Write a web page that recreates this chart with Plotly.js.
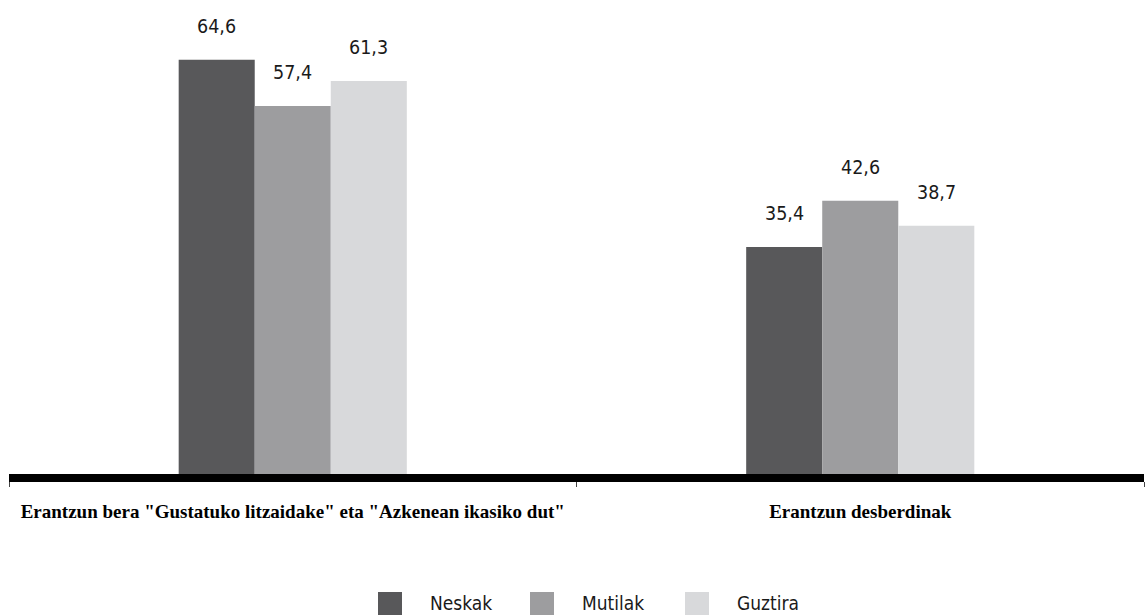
<!DOCTYPE html>
<html>
<head>
<meta charset="utf-8">
<script src="https://cdn.plot.ly/plotly-3.0.1.min.js"></script>
<style>html,body{margin:0;padding:0;background:#fff;}#chart{width:1146px;height:615px;}</style>
</head>
<body>
<div id="chart"></div>
<script>
const categories = ['Erantzun bera "Gustatuko litzaidake" eta "Azkenean ikasiko dut"', 'Erantzun desberdinak'];
const seriesNames = ['Neskak', 'Mutilak', 'Guztira'];
const neskak = [64.6, 35.4];
const mutilak = [57.4, 42.6];
const guztira = [61.3, 38.7];
const seriesColors = ['#58585a', '#9d9d9f', '#d8d9db'];

const seriesValues = [neskak, mutilak, guztira];
const W = 1146, H = 615;
const margin = {l: 9, r: 2, t: 20, b: 141};
const plotW = W - margin.l - margin.r, plotH = H - margin.t - margin.b;
const bargap = 0.598;
const barW = (1 - bargap) / seriesNames.length;
const labelFont = 'DejaVu Sans Condensed, Liberation Sans Narrow, Arial Narrow, sans-serif';
const fmt = v => v.toFixed(1).replace('.', ',');

const traces = seriesNames.map((name, i) => ({
  type: 'bar',
  name: name,
  x: categories,
  y: seriesValues[i],
  marker: {color: seriesColors[i], line: {width: 0}},
  hoverinfo: 'skip'
}));

const annotations = [];
seriesValues.forEach((vals, i) => {
  vals.forEach((v, j) => {
    annotations.push({
      x: j + (i - (seriesNames.length - 1) / 2) * barW,
      y: v, xref: 'x', yref: 'y',
      text: fmt(v), showarrow: false,
      yanchor: 'bottom', yshift: 20,
      font: {family: labelFont, size: 19.5, color: '#1a1a1a'}
    });
  });
});

// legend (drawn in pixel positions below the plot)
const px2x = p => (p - margin.l) / plotW;
const px2y = p => (H - margin.b - p) / plotH;
const legendX = [378, 530, 685];
const shapes = [];
seriesNames.forEach((name, i) => {
  shapes.push({
    type: 'rect', xref: 'paper', yref: 'paper',
    x0: px2x(legendX[i]), x1: px2x(legendX[i] + 24),
    y0: px2y(592), y1: px2y(616),
    fillcolor: seriesColors[i], line: {width: 0}
  });
  annotations.push({
    xref: 'paper', yref: 'paper',
    x: px2x(legendX[i] + 50), y: px2y(603),
    xanchor: 'left', yanchor: 'middle',
    text: name, showarrow: false,
    font: {family: labelFont, size: 19, color: '#1a1a1a'}
  });
});

const layout = {
  width: W, height: H,
  margin: margin,
  paper_bgcolor: '#ffffff', plot_bgcolor: '#ffffff',
  barmode: 'group', bargap: bargap, bargroupgap: 0,
  showlegend: false,
  xaxis: {
    type: 'category',
    showline: true, linecolor: '#000000', linewidth: 8,
    ticks: 'outside', tickson: 'boundaries', ticklen: 5, tickwidth: 1, tickcolor: '#444',
    ticklabelstandoff: 13,
    showgrid: false, zeroline: false,
    tickfont: {family: 'Liberation Serif, Times New Roman, serif', size: 19, color: '#000', weight: 'bold'},
    fixedrange: true
  },
  yaxis: {range: [0, 70.8], visible: false, showgrid: false, zeroline: false, fixedrange: true},
  annotations: annotations,
  shapes: shapes
};

Plotly.newPlot('chart', traces, layout, {displayModeBar: false, staticPlot: true});
</script>
</body>
</html>
